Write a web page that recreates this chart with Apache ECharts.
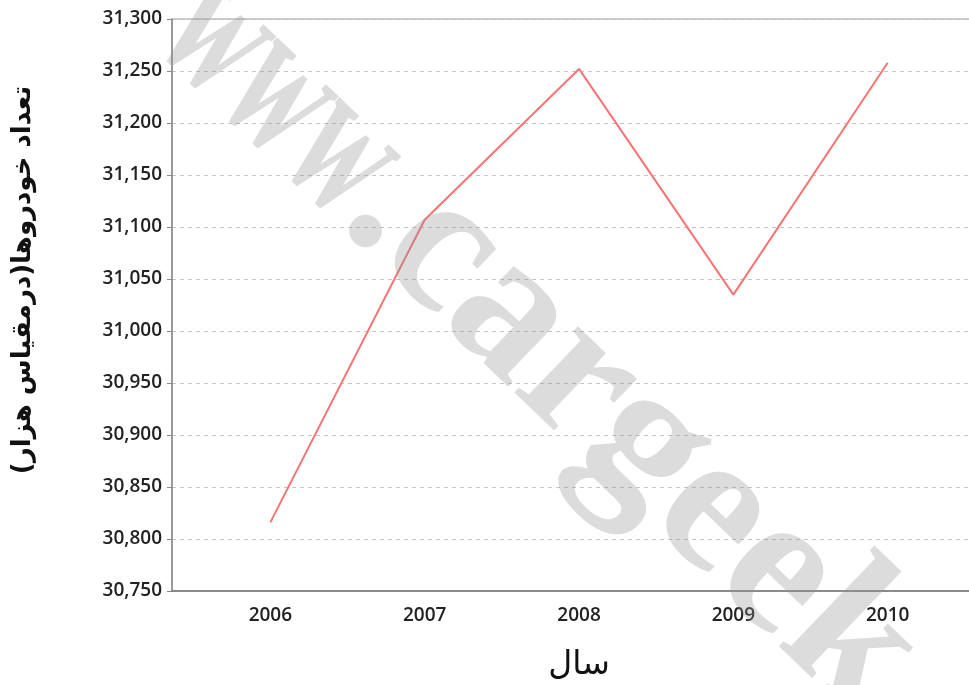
<!DOCTYPE html>
<html>
<head>
<meta charset="utf-8">
<script src="https://cdn.jsdelivr.net/npm/echarts@6/dist/echarts.min.js"></script>
<style>
html,body{margin:0;padding:0;background:#fff;}
#c{width:969px;height:685px;}
</style>
</head>
<body>
<div id="c"></div>
<script>
const years = [2006, 2007, 2008, 2009, 2010];
const vehicles = [30816, 31107, 31252, 31035, 31258];
const yTicks = [30750, 30800, 30850, 30900, 30950, 31000, 31050, 31100, 31150, 31200, 31250, 31300];
const xTitle = 'سال';
const yTitle = 'تعداد خودروها(درمقیاس هزار)';
const watermarkA = 'www';
const watermarkB = '.cargeek.ir';

const chart = echarts.init(document.getElementById('c'));
const points = years.map((y, i) => [y, vehicles[i]]);
const wmAngle = -0.765;
const wmStyle = {fontFamily: 'Liberation Serif', fontWeight: 'bold', fontSize: 200, fill: 'rgba(145,145,145,0.32)', verticalAlign: 'middle'};

chart.setOption({
  backgroundColor: '#fff',
  animation: false,
  grid: {left: 172, top: 19, right: -3, bottom: 94, show: true, borderColor: '#9a9a9a', borderWidth: 1, outerBoundsMode: 'none', containLabel: false},
  xAxis: {
    type: 'value',
    min: 2005.3626,
    max: 2010.5463,
    name: xTitle,
    nameLocation: 'middle',
    nameGap: 58,
    nameTextStyle: {fontFamily: 'DejaVu Sans', fontSize: 33, color: '#111', padding: [0, 0, 0, 14]},
    axisLine: {show: true, lineStyle: {color: '#777', width: 1.5}},
    axisTick: {show: false},
    splitLine: {show: false},
    axisLabel: {
      customValues: years,
      formatter: v => String(Math.round(v)),
      fontFamily: 'Open Sans', fontWeight: 600, fontSize: 19, color: '#222', margin: 15
    }
  },
  yAxis: {
    type: 'value',
    min: yTicks[0],
    max: yTicks[yTicks.length - 1],
    interval: 50,
    axisLine: {show: true, lineStyle: {color: '#888', width: 1.5}},
    axisTick: {show: true, length: 5, lineStyle: {color: '#888'}},
    splitLine: {show: true, lineStyle: {type: [4, 4], color: '#c4c4c4'}},
    axisLabel: {
      formatter: v => v.toLocaleString('en-US'),
      fontFamily: 'Open Sans', fontWeight: 600, fontSize: 19, color: '#222', margin: 10
    }
  },
  graphic: [
    {
      type: 'text', z: 100,
      x: 23, y: 280, rotation: Math.PI / 2,
      style: {text: yTitle, fontFamily: 'DejaVu Sans', fontWeight: 'bold', fontSize: 26, fill: '#111', align: 'center', verticalAlign: 'middle'}
    },
    {
      type: 'text', z: 200,
      x: 374, y: 186, rotation: wmAngle, scaleX: 0.6,
      style: Object.assign({text: watermarkA, align: 'right'}, wmStyle)
    },
    {
      type: 'text', z: 200,
      x: 374, y: 186, rotation: wmAngle,
      style: Object.assign({text: watermarkB, align: 'left'}, wmStyle)
    }
  ],
  series: [{
    type: 'line',
    data: points,
    symbol: 'none',
    lineStyle: {color: '#f77474', width: 2}
  }]
});
</script>
</body>
</html>
